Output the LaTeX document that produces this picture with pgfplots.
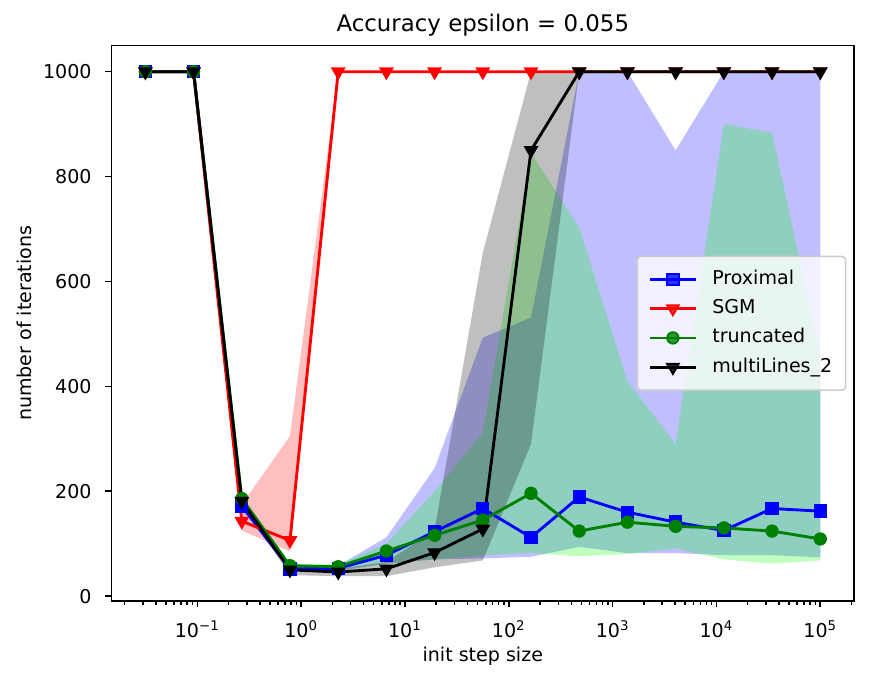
\documentclass[border=0pt]{standalone}
\usepackage{fontspec}
\setmainfont{DejaVu Sans}
\usepackage{pgfplots}
\pgfplotsset{compat=1.18}
\usepackage{pgfplotstable}
\usepgfplotslibrary{fillbetween}

\definecolor{mplgreen}{RGB}{0,128,0}
\definecolor{lime}{RGB}{0,255,0}

% x: init step size; p = Proximal, s = SGM, t = truncated, m = multiLines_2
% *m = mean, *u = upper band, *l = lower band
\pgfplotstableread{
x        pm   pu   pl   sm   su   sl   tm   tu   tl   mm   mu   ml
0.031623 1000 1000 1000 1000 1000 1000 1000 1000 1000 1000 1000 1000
0.092070 1000 1000 1000 1000 1000 1000 1000 1000 1000 1000 1000 1000
0.26827  172  178  165  143  175  125  186  192  180  181  186  176
0.78102  52   56   48   106  305  85   58   62   52   50   58   40
2.2758   53   58   48   1000 1000 1000 56   60   50   46   52   38
6.6289   78   112  62   1000 1000 1000 86   100  62   52   65   38
19.307   123  244  70   1000 1000 1000 116  200  70   83   126  55
56.234   167  493  72   1000 1000 1000 145  312  78   128  655  68
163.79   112  531  75   1000 1000 1000 196  845  82   850  1000 290
477.03   189  1000 94   1000 1000 1000 124  703  76   1000 1000 1000
1389.5   160  1000 82   1000 1000 1000 141  410  80   1000 1000 1000
4047.0   141  850  82   1000 1000 1000 133  290  91   1000 1000 1000
11787    125  1000 78   1000 1000 1000 130  900  70   1000 1000 1000
34333    167  1000 78   1000 1000 1000 124  884  62   1000 1000 1000
100000   162  1000 74   1000 1000 1000 109  460  68   1000 1000 1000
}\data

\begin{document}
\begin{tikzpicture}
\begin{axis}[
  scale only axis, width=389.7pt, height=291.4pt,
  xmode=log, xmin=0.014962, xmax=211350, ymin=-9, ymax=1049.6,
  axis line style={line width=0.8pt},
  every tick/.append style={black, line width=0.8pt},
  tick align=outside, tick pos=left,
  major tick length=3.5pt, minor tick length=2pt,
  xtick={0.1,1,10,100,1000,10000,100000},
  xticklabels={10\textsuperscript{−1},10\textsuperscript{0},10\textsuperscript{1},10\textsuperscript{2},10\textsuperscript{3},10\textsuperscript{4},10\textsuperscript{5}},
  minor xtick={0.02,0.03,0.04,0.05,0.06,0.07,0.08,0.09,0.2,0.3,0.4,0.5,0.6,0.7,0.8,0.9,2,3,4,5,6,7,8,9,20,30,40,50,60,70,80,90,200,300,400,500,600,700,800,900,2000,3000,4000,5000,6000,7000,8000,9000,20000,30000,40000,50000,60000,70000,80000,90000,200000},
  ytick={0,200,400,600,800,1000},
  /pgf/number format/assume math mode=true,
  /pgf/number format/1000 sep={},
  ticklabel style={font=\fontsize{10}{12}\selectfont},
  yticklabel style={xshift=-3.5pt},
  xticklabel style={yshift=-3.5pt},
  title={Accuracy epsilon = 0.055},
  every axis title/.style={at={(axis description cs:0.5,1.0264)}, anchor=base, font=\fontsize{12}{14}\selectfont},
  xlabel={init step size},
  xlabel style={at={(axis description cs:0.5,-0.1098)}, anchor=base, font=\fontsize{10}{12}\selectfont},
  ylabel={number of iterations},
  ylabel style={at={(axis description cs:-0.1074,0.5)}, anchor=base, font=\fontsize{10}{12}\selectfont},
  legend style={at={(axis description cs:1,0.5)}, xshift=-4pt, anchor=east,
    draw=black!20, line width=0.8pt, rounded corners=2pt, fill=white, fill opacity=0.8,
    draw opacity=1, text opacity=1, inner sep=6pt, row sep=3.4pt, column sep=7pt,
    font=\fontsize{10}{12}\selectfont,
    nodes={inner sep=1pt, text height=7.5pt, text depth=2.5pt}},
  legend cell align=left,
  legend image code/.code={\draw[mark repeat=2,mark phase=2,#1] plot coordinates {(0cm,0cm) (0.42cm,0cm) (0.84cm,0cm)};},
]
% bands
\addplot[name path=pu, draw=none, forget plot] table[x=x,y=pu]{\data};
\addplot[name path=pl, draw=none, forget plot] table[x=x,y=pl]{\data};
\addplot[fill=blue, fill opacity=0.25, draw=none, forget plot] fill between[of=pu and pl];
\addplot[name path=su, draw=none, forget plot] table[x=x,y=su]{\data};
\addplot[name path=sl, draw=none, forget plot] table[x=x,y=sl]{\data};
\addplot[fill=red, fill opacity=0.25, draw=none, forget plot] fill between[of=su and sl];
\addplot[name path=tu, draw=none, forget plot] table[x=x,y=tu]{\data};
\addplot[name path=tl, draw=none, forget plot] table[x=x,y=tl]{\data};
\addplot[fill=lime, fill opacity=0.25, draw=none, forget plot] fill between[of=tu and tl];
\addplot[name path=mu, draw=none, forget plot] table[x=x,y=mu]{\data};
\addplot[name path=ml, draw=none, forget plot] table[x=x,y=ml]{\data};
\addplot[fill=black, fill opacity=0.25, draw=none, forget plot] fill between[of=mu and ml];
% lines
\addplot[blue, line width=1.5pt, mark=square*, mark size=3pt, mark options={line width=1pt}] table[x=x,y=pm]{\data};
\addlegendentry{Proximal}
\addplot[red, line width=1.5pt, mark=triangle*, mark size=3.5pt, mark options={line width=1pt, rotate=180}] table[x=x,y=sm]{\data};
\addlegendentry{SGM}
\addplot[mplgreen, line width=1.5pt, mark=*, mark size=3pt, mark options={line width=1pt}] table[x=x,y=tm]{\data};
\addlegendentry{truncated}
\addplot[black, line width=1.5pt, mark=triangle*, mark size=3.5pt, mark options={line width=1pt, rotate=180}] table[x=x,y=mm]{\data};
\addlegendentry{multiLines\_2}
\end{axis}
\path ([shift={(-58.6pt,-42.7pt)}]current axis.south west) rectangle ([shift={(12.6pt,24pt)}]current axis.north east);
\end{tikzpicture}
\end{document}
